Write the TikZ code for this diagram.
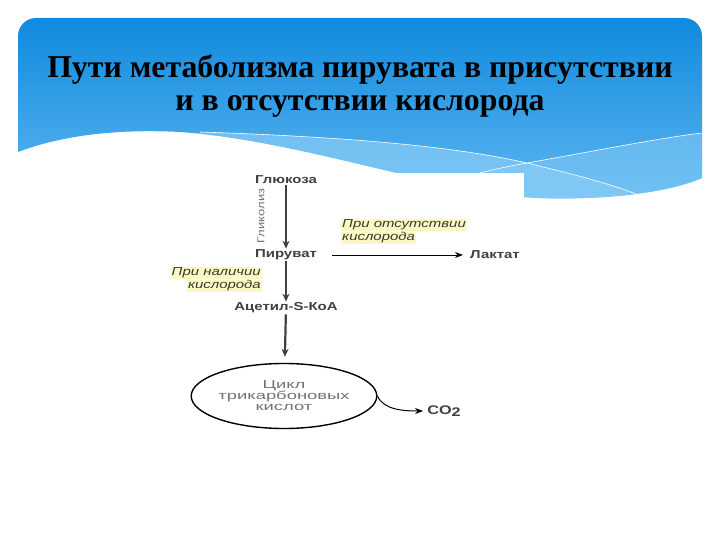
\documentclass[tikz,border=0pt]{standalone}
\usepackage{fontspec}
\setmainfont{Liberation Serif}
\newfontfamily\diagfont[FakeStretch=1.3]{Liberation Sans}
\newfontfamily\cyclefont[FakeStretch=1.6]{Liberation Sans}
\usetikzlibrary{positioning,arrows.meta,shapes.geometric}
\definecolor{skytop}{RGB}{16,138,222}
\definecolor{skybot}{RGB}{92,182,240}
\definecolor{skylight}{RGB}{136,204,246}
\definecolor{hilite}{RGB}{252,248,196}
\definecolor{stagegray}{RGB}{64,64,64}
\definecolor{softgray}{RGB}{115,115,115}
\definecolor{condgray}{RGB}{50,58,50}
\tikzset{
	stage/.style={font=\diagfont\fontsize{11.5}{13}\selectfont\bfseries, text=stagegray, inner sep=1pt},
	cond/.style={font=\diagfont\fontsize{11.5}{13}\selectfont\itshape, text=condgray, fill=hilite, inner sep=1pt},
	flow/.style={-{Stealth[length=8pt,width=7pt]}, line width=2.2pt, draw=stagegray},
	thinflow/.style={-{Stealth[length=8pt,width=6pt]}, line width=1pt},
}
\begin{document}
\begin{tikzpicture}[x=1pt, y=-1pt]
				\useasboundingbox (0,0) rectangle (720,540);
				\fill[white] (0,0) rectangle (720,540);
				
				%header
				\def\headerpath{(18,152) -- (18,36) arc[start angle=180, end angle=270, radius=18]
					-- (684,18) arc[start angle=270, end angle=360, radius=18] -- (702,178)
					.. controls (665,194) and (600,200) .. (540,198)
					.. controls (450,195) and (300,140) .. (180,132)
					.. controls (100,128) and (50,140) .. (18,152) -- cycle}
				\shade[top color=skytop, bottom color=skybot] \headerpath;
				\begin{scope}
					\clip \headerpath;
					\fill[skylight, opacity=0.7] (200,132) .. controls (380,138) and (470,150) .. (527,163)
						.. controls (580,176) and (620,186) .. (650,200) -- (200,200) -- cycle;
					\fill[skylight, opacity=0.5] (460,178) .. controls (490,170) and (510,166) .. (527,163)
						.. controls (600,150) and (660,138) .. (702,133) -- (702,200) -- (460,200) -- cycle;
					\draw[white, line width=0.6pt] (200,132) .. controls (380,138) and (470,150) .. (527,163)
						.. controls (580,176) and (620,186) .. (650,200);
					\draw[white, line width=0.6pt] (460,178) .. controls (490,170) and (510,166) .. (527,163)
						.. controls (600,150) and (660,138) .. (702,133);
				\end{scope}
				\node[font=\fontsize{31.8}{33}\selectfont\bfseries, align=center, inner sep=0pt] (title) at (360,86)
					{Пути метаболизма пирувата в присутствии\\и в отсутствии кислорода};
				
				%scheme
				\fill[white] (160,173) rectangle (524,470);
				\node[stage] (glu) at (286,180) {Глюкоза};
				\node[stage] (pyr) at (286,255) {Пируват};
				\node[stage] (acet) at (286,308) {Ацетил-S-КоА};
				\node[stage] (lact) at (495,255) {Лактат};
				\node[font=\diagfont\fontsize{10}{11}\selectfont, text=softgray, rotate=90, inner sep=1pt] (glyc) at (261,216) {Гликолиз};
				\node[draw, line width=1.4pt, ellipse, minimum width=182, minimum height=65, inner sep=0pt,
					font=\cyclefont\fontsize{11.5}{11}\selectfont, text=softgray, align=center] (tca) at (284,396)
					{Цикл\\трикарбоновых\\кислот};
				\node[stage, font=\diagfont\fontsize{12.5}{13}\selectfont\bfseries] (co2) at (444,411) {CO\raisebox{-2pt}{2}};
				
				\node[cond, anchor=west] (absent) at (341,225) {При отсутствии};
				\node[cond, below right=0pt and 0pt of absent.south west] (absentb) {кислорода};
				\node[cond, anchor=east] (present) at (262,273) {При наличии};
				\node[cond, below left=0pt and 0pt of present.south east] (presentb) {кислорода};
				
				\draw[flow] (glu) -- (pyr);
				\draw[flow] (pyr) -- (acet);
				\draw[flow, shorten >=6pt] (acet) -- (tca);
				\draw[thinflow, shorten <=14pt, shorten >=6pt] (pyr) -- (lact);
				\draw[thinflow, shorten >=3pt] (tca.east) .. controls +(6,14) and +(-22,0) .. (co2.west);
			\end{tikzpicture}
\end{document}
